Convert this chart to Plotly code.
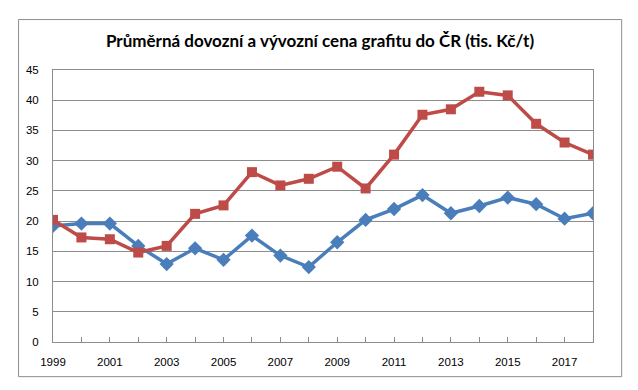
import plotly.graph_objects as go

years = list(range(1999, 2019))
dovozni = [19.2, 19.6, 19.6, 15.9, 12.9, 15.5, 13.6, 17.6, 14.3, 12.4,
           16.5, 20.2, 22.0, 24.3, 21.3, 22.5, 23.9, 22.8, 20.4, 21.3]
vyvozni = [20.2, 17.3, 17.0, 14.8, 15.9, 21.2, 22.6, 28.1, 25.9, 27.0,
           29.0, 25.4, 31.0, 37.6, 38.5, 41.4, 40.8, 36.1, 33.0, 31.0]
tick_text = [str(y) if (y - 1999) % 2 == 0 else "" for y in years]
y_ticks = list(range(0, 50, 5))

# page body has an 8px margin; compensate
OFF = 8
W, H = 638 - OFF, 390 - OFF
L, R = 52.5 - OFF, 638 - 593.3
T, B = 70 - OFF, 390 - 342.3
PW, PH = W - L - R, H - T - B

fig = go.Figure()
fig.add_trace(go.Scatter(
    x=years, y=dovozni, mode="lines+markers", name="Dovozní cena",
    line=dict(color="#4A7EBB", width=3.5),
    marker=dict(symbol="diamond", size=11, color="#4A7EBB"),
))
fig.add_trace(go.Scatter(
    x=years, y=vyvozni, mode="lines+markers", name="Vývozní cena",
    line=dict(color="#BE4B48", width=3.5),
    marker=dict(symbol="square", size=10, color="#BE4B48"),
))

fig.update_layout(
    width=W, height=H,
    margin=dict(l=L, r=R, t=T, b=B),
    paper_bgcolor="white", plot_bgcolor="white",
    showlegend=False,
    title=dict(
        text="<b>Průměrná dovozní a vývozní cena grafitu do ČR (tis. Kč/t)</b>",
        x=(320 - OFF) / W, xanchor="center", y=1 - (41 - OFF) / H, yanchor="middle",
        font=dict(family="Lato, Liberation Sans, sans-serif", size=17, color="#000000"),
    ),
    font=dict(family="Liberation Sans, Arial, sans-serif", size=11.5, color="#000000"),
    shapes=[dict(
        type="rect", xref="paper", yref="paper",
        x0=(18 - 52.5) / PW, x1=(622 - 52.5) / PW,
        y0=(342.3 - 377) / PH, y1=(342.3 - 19.5) / PH,
        line=dict(color="#8C8C8C", width=1), fillcolor="rgba(0,0,0,0)", layer="above",
    )],
)
fig.update_xaxes(
    range=[1999, 2018], tickvals=years, ticktext=tick_text,
    showgrid=False, zeroline=False,
    showline=True, linecolor="#8C8C8C", linewidth=1, mirror=True,
    ticks="inside", ticklen=5, tickcolor="#8C8C8C",
    ticklabelstandoff=9,
)
fig.update_yaxes(
    range=[0, 45], tickvals=y_ticks,
    showgrid=True, gridcolor="#8C8C8C", gridwidth=1, zeroline=False,
    showline=True, linecolor="#8C8C8C", linewidth=1, mirror=True,
    ticks="", ticklabelstandoff=11,
)

fig.write_html("out.html")
